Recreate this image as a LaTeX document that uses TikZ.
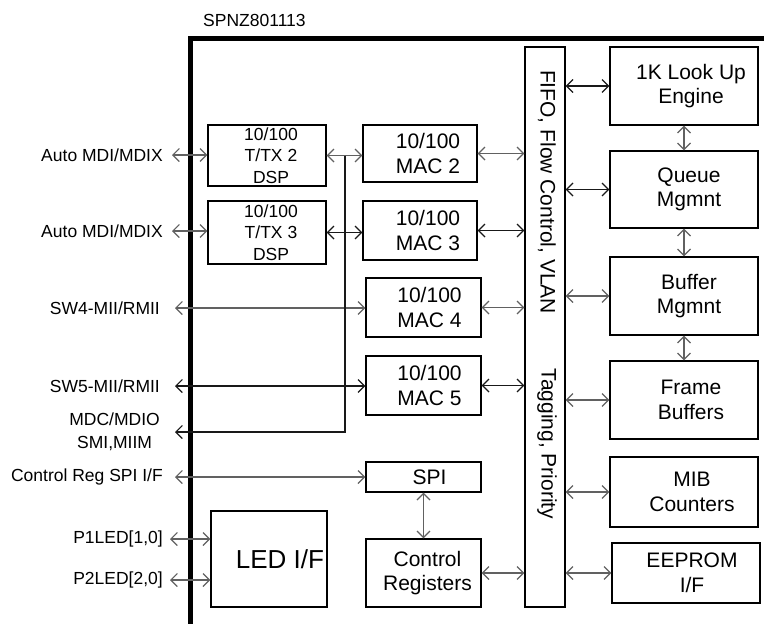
\documentclass[tikz,border=0pt]{standalone}
\usepackage{fontspec}
\setmainfont{Liberation Sans}
\usetikzlibrary{arrows.meta}
\definecolor{wire}{gray}{0.38}
\definecolor{wirek}{gray}{0.1}
\begin{document}
\begin{tikzpicture}[x=1pt,y=-1pt,
  >={Straight Barb[length=6.5pt,width=13pt]},
  blk/.style={draw, line width=1.3pt, inner sep=0pt},
  txt/.style={align=center, font=\fontsize{21}{24.5}\selectfont},
  dsptxt/.style={align=center, font=\fontsize{17.5}{21.5}\selectfont},
  pin/.style={align=center, font=\fontsize{17.5}{23}\selectfont, anchor=east, inner sep=0pt},
  arr/.style={<->, line width=1.2pt, draw=wire},
  arrk/.style={<->, line width=1.2pt, draw=wirek}]
\useasboundingbox (0,0) rectangle (764,624);
\node[anchor=west, font=\fontsize{17.5}{20}\selectfont, inner sep=0pt] (chip) at (203,20) {SPNZ801113};
\draw[line width=5pt] (190,626) -- (190,38) -- (766,38);
% blocks
\node[blk, minimum width=118, minimum height=61, label={[dsptxt, xshift=4]center:10/100\\T/TX 2\\DSP}] (dsp2) at (267,155.5) {};
\node[blk, minimum width=118, minimum height=63, label={[dsptxt, xshift=4]center:10/100\\T/TX 3\\DSP}] (dsp3) at (267,232.5) {};
\node[blk, minimum width=114, minimum height=57, label={[txt, xshift=8]center:10/100\\MAC 2}] (mac2) at (420,153.5) {};
\node[blk, minimum width=114, minimum height=59, label={[txt, xshift=8]center:10/100\\MAC 3}] (mac3) at (420,230.5) {};
\node[blk, minimum width=115, minimum height=59, label={[txt, xshift=6]center:10/100\\MAC 4}] (mac4) at (423.5,307.5) {};
\node[blk, minimum width=115, minimum height=59, label={[txt, xshift=6]center:10/100\\MAC 5}] (mac5) at (423.5,385.5) {};
\node[blk, minimum width=115, minimum height=30, label={[txt, xshift=6]center:SPI}] (spi) at (423.5,477) {};
\node[blk, minimum width=115, minimum height=68, label={[txt, xshift=4]center:Control\\Registers}] (ctrl) at (423.5,573) {};
\node[blk, minimum width=116, minimum height=96, label={[font=\fontsize{26}{30}\selectfont, xshift=11]center:LED I/F}] (led) at (269,559) {};
\node[blk, minimum width=40, minimum height=560] (fifo) at (545,327) {};
\node[txt, rotate=-90] (fifoA) at (547,192) {FIFO, Flow Control, VLAN};
\node[txt, rotate=-90] (fifoB) at (547,444) {Tagging, Priority};
\node[blk, minimum width=148, minimum height=78, label={[txt, xshift=7]center:1K Look Up\\Engine}] (lookup) at (684,86) {};
\node[blk, minimum width=148, minimum height=77, label={[txt, xshift=5]center:Queue\\Mgmnt}] (queue) at (684,189.5) {};
\node[blk, minimum width=148, minimum height=78, label={[txt, xshift=5]center:Buffer\\Mgmnt}] (buffer) at (684,296) {};
\node[blk, minimum width=148, minimum height=78, label={[txt, xshift=7]center:Frame\\Buffers}] (frame) at (684,400) {};
\node[blk, minimum width=148, minimum height=70, label={[txt, xshift=8]center:MIB\\Counters}] (mib) at (684,492) {};
\node[blk, minimum width=148, minimum height=60, label={[txt, xshift=6]center:EEPROM\\I/F}] (eeprom) at (686,573) {};
% pins
\node[pin] (auto2) at (163,155) {Auto MDI/MDIX};
\node[pin] (auto3) at (163,231) {Auto MDI/MDIX};
\node[pin] (sw4) at (160,308) {SW4-MII/RMII};
\node[pin] (sw5) at (160,386) {SW5-MII/RMII};
\node[pin] (mdc) at (160,432) {MDC/MDIO\\SMI,MIIM};
\node[pin] (spiif) at (163,477) {Control Reg SPI I/F};
\node[pin] (p1) at (163,539) {P1LED[1,0]};
\node[pin] (p2) at (163,580) {P2LED[2,0]};
% links
\draw[arr] ([xshift=9]auto2.east) -- (auto2.east -| dsp2.west);
\draw[arr] ([xshift=9]auto3.east) -- (auto3.east -| dsp3.west);
\draw[arr] (dsp2.east) -- (dsp2.east -| mac2.west);
\draw[arrk] (dsp3.east) -- (dsp3.east -| mac3.west);
\draw[arr] ([xshift=15]sw4.east) -- (sw4.east -| mac4.west);
\draw[arrk] ([xshift=15]sw5.east) -- (sw5.east -| mac5.west);
\coordinate (tap) at (345,155.5);
\draw[->, line width=1.2pt, draw=wirek] (tap) |- ([xshift=15]mdc.east);
\draw[arr] ([xshift=12]spiif.east) -- (spiif.east -| spi.west);
\draw[arr] ([xshift=7]p1.east) -- (p1.east -| led.west);
\draw[arr] ([xshift=7]p2.east) -- (p2.east -| led.west);
\draw[arr] (mac2.east) -- (mac2.east -| fifo.west);
\draw[arrk] (mac3.east) -- (mac3.east -| fifo.west);
\draw[arr] (mac4.east) -- (mac4.east -| fifo.west);
\draw[arrk] (mac5.east) -- (mac5.east -| fifo.west);
\draw[arr] (ctrl.east) -- (ctrl.east -| fifo.west);
\draw[arr] (spi.south) -- (ctrl.north);
\draw[arrk] (lookup.west -| fifo.east) -- (lookup.west);
\draw[arrk] (queue.west -| fifo.east) -- (queue.west);
\draw[arr] (buffer.west -| fifo.east) -- (buffer.west);
\draw[arr] (frame.west -| fifo.east) -- (frame.west);
\draw[arr] (mib.west -| fifo.east) -- (mib.west);
\draw[arr] (eeprom.west -| fifo.east) -- (eeprom.west);
\draw[arr] (lookup.south) -- (queue.north);
\draw[arr] (queue.south) -- (buffer.north);
\draw[arr] (buffer.south) -- (frame.north);
\end{tikzpicture}
\end{document}
